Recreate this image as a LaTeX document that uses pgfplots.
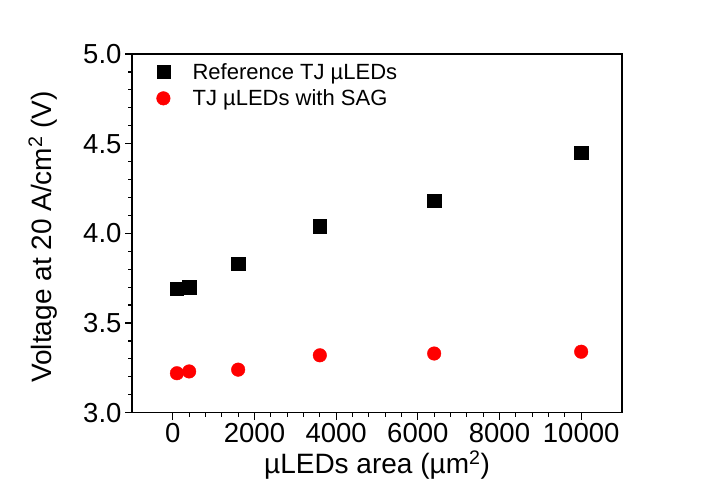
\documentclass[border=0pt]{standalone}
\usepackage{fontspec}
\setmainfont{Liberation Sans}
\usepackage{pgfplots}
\pgfplotsset{compat=1.18}
\begin{document}
\begin{tikzpicture}
\useasboundingbox (0pt,0pt) rectangle (710pt,493pt);
\begin{axis}[
  at={(132pt,80.3pt)}, anchor=south west,
  width=490pt, height=358.7pt, scale only axis,
  xmin=-1000, xmax=11000, ymin=3, ymax=5,
  xtick={0,2000,4000,6000,8000,10000}, ytick={3,3.5,4,4.5,5},
  scaled x ticks=false,
  minor x tick num=4, minor y tick num=4,
  tick align=outside, tick pos=left,
  major tick length=7pt, minor tick length=4pt,
  every tick/.style={black, line width=1.2pt},
  axis line style={line width=1.5pt},
  /pgf/number format/assume math mode=true,
  x tick label style={/pgf/number format/1000 sep={}, font=\fontsize{27.5}{31}\selectfont},
  y tick label style={/pgf/number format/.cd, fixed, fixed zerofill, precision=1, /tikz/.cd, font=\fontsize{27.5}{31}\selectfont},
  xlabel={µLEDs area (µm\textsuperscript{2})},
  ylabel={Voltage at 20 A/cm\textsuperscript{2} (V)},
  xlabel style={at={(axis description cs:0.5,-0.146)}, anchor=center},
  ylabel style={at={(axis description cs:-0.182,0.49)}, anchor=center},
  label style={font=\fontsize{28}{32}\selectfont},
  legend style={at={(0,1)}, anchor=north west, xshift=13pt, yshift=-5pt, draw=none, fill=none,
    font=\fontsize{22}{26}\selectfont, row sep=5pt},
  legend cell align=left,
  legend image code/.code={\path (0pt,0pt) (42pt,0pt); \draw[#1] plot coordinates {(15pt,0pt)};},
]
\addplot[only marks, mark=square*, mark size=6.6pt, black] coordinates {
(100,3.69) (400,3.70) (1600,3.83) (3600,4.04) (6400,4.18) (10000,4.45)};
\addlegendentry{Reference TJ µLEDs}
\addplot[only marks, mark=*, mark size=6.8pt, red, fill=red] coordinates {
(100,3.22) (400,3.23) (1600,3.24) (3600,3.32) (6400,3.33) (10000,3.34)};
\addlegendentry{TJ µLEDs with SAG}
\end{axis}
\end{tikzpicture}
\end{document}
